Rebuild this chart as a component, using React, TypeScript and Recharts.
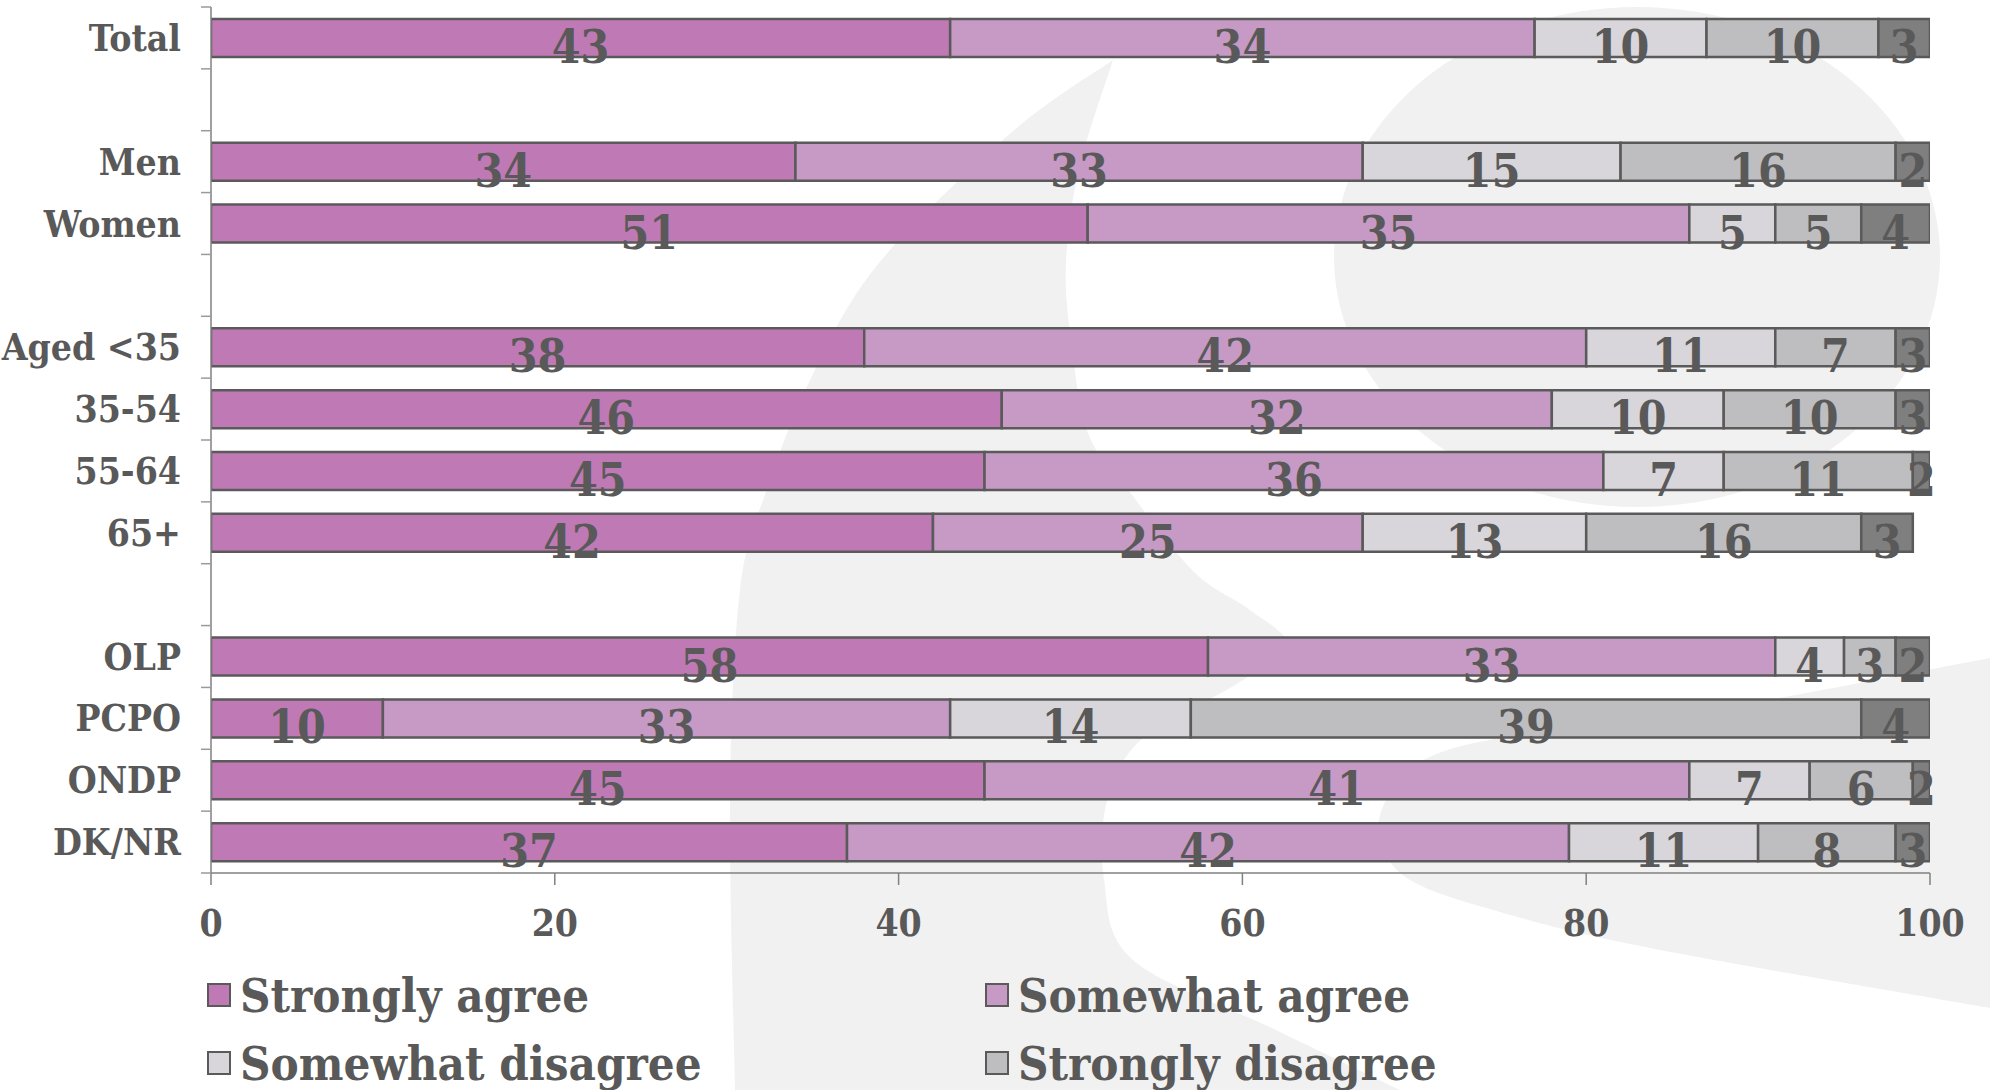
import { BarChart, Bar, XAxis, YAxis, LabelList } from "recharts"

const categories = ["Total", "", "Men", "Women", "", "Aged <35", "35-54", "55-64", "65+", "", "OLP", "PCPO", "ONDP", "DK/NR"]
const stronglyAgree = [43, null, 34, 51, null, 38, 46, 45, 42, null, 58, 10, 45, 37]
const somewhatAgree = [34, null, 33, 35, null, 42, 32, 36, 25, null, 33, 33, 41, 42]
const somewhatDisagree = [10, null, 15, 5, null, 11, 10, 7, 13, null, 4, 14, 7, 11]
const stronglyDisagree = [10, null, 16, 5, null, 7, 10, 11, 16, null, 3, 39, 6, 8]
const dkNr = [3, null, 2, 4, null, 3, 3, 2, 3, null, 2, 4, 2, 3]
const xTicks = [0, 20, 40, 60, 80, 100]

const series = [
  { key: "sa", name: "Strongly agree", values: stronglyAgree, color: "#bf7ab6", legend: true },
  { key: "swa", name: "Somewhat agree", values: somewhatAgree, color: "#c79ac6", legend: true },
  { key: "swd", name: "Somewhat disagree", values: somewhatDisagree, color: "#d8d6da", legend: true },
  { key: "sd", name: "Strongly disagree", values: stronglyDisagree, color: "#bebdc0", legend: true },
  { key: "dk", name: "DK/NR", values: dkNr, color: "#7f7f7f", legend: false },
]

const data = categories.map((name, i) => {
  const row: Record<string, string | number | null> = { name }
  series.forEach((s) => (row[s.key] = s.values[i]))
  return row
})

const W = 1990
const H = 1090
const TOP = 7
const PLOT_H = 866
const FONT = '"DejaVu Serif Condensed", "DejaVu Serif", serif'
const TEXT = "#595959"
const EDGE = "#5a5a5a"
const WASH = "#f1f1f1"

// watermark outline (page decoration, not data)
const crescentOuter = [[1113, 60], [1012, 132], [879, 263], [812, 376], [767, 489], [740, 590], [730, 800], [735, 1090]]
const crescentInner = [[1400, 1090], [1276, 1030], [1133, 960], [1104, 879], [1108, 797], [1145, 736], [1235, 685], [1286, 645], [1250, 610], [1194, 572], [1129, 491], [1088, 433], [1071, 339], [1066, 263], [1079, 169], [1113, 60]]
const tail = [[1990, 658], [1700, 712], [1500, 738], [1420, 762], [1386, 800], [1380, 840], [1410, 880], [1500, 912], [1650, 948], [1990, 1008]]

function smooth(pts: number[][]) {
  let d = ""
  for (let i = 0; i < pts.length - 1; i++) {
    const p0 = pts[Math.max(i - 1, 0)]
    const p1 = pts[i]
    const p2 = pts[i + 1]
    const p3 = pts[Math.min(i + 2, pts.length - 1)]
    const c1 = [p1[0] + (p2[0] - p0[0]) / 6, p1[1] + (p2[1] - p0[1]) / 6]
    const c2 = [p2[0] - (p3[0] - p1[0]) / 6, p2[1] - (p3[1] - p1[1]) / 6]
    d += ` C ${c1[0]} ${c1[1]}, ${c2[0]} ${c2[1]}, ${p2[0]} ${p2[1]}`
  }
  return d
}

function Backdrop() {
  const crescent =
    `M ${crescentOuter[0][0]} ${crescentOuter[0][1]}` +
    smooth(crescentOuter) +
    ` L ${crescentInner[0][0]} ${crescentInner[0][1]}` +
    smooth(crescentInner) +
    " Z"
  const tailPath = `M ${tail[0][0]} ${tail[0][1]}` + smooth(tail) + " Z"
  return (
    <svg width={W} height={H} style={{ position: "absolute", left: 0, top: 0 }}>
      <ellipse cx={1637} cy={257} rx={303} ry={250} fill={WASH} />
      <path d={crescent} fill={WASH} />
      <path d={tailPath} fill={WASH} />
    </svg>
  )
}

function CategoryTick(props: any) {
  const { x, y, payload, index } = props
  const slot = PLOT_H / categories.length
  const tx = x + 20
  return (
    <g>
      <line x1={tx} x2={tx + 10} y1={y - slot / 2} y2={y - slot / 2} stroke="#9a9a9a" strokeWidth={1.5} />
      {index === categories.length - 1 && (
        <line x1={tx} x2={tx + 10} y1={y + slot / 2} y2={y + slot / 2} stroke="#9a9a9a" strokeWidth={1.5} />
      )}
      <text x={x} y={y} textAnchor="end" dominantBaseline="central" fill={TEXT} fontFamily={FONT} fontWeight="bold" fontSize={37}>
        {payload.value}
      </text>
    </g>
  )
}

function SegmentLabel(props: any) {
  const { x, y, width, height, value } = props
  if (value == null) return null
  return (
    <text
      x={x + width / 2}
      y={y + height / 2 + 9}
      textAnchor="middle"
      dominantBaseline="central"
      fill={TEXT}
      fontFamily={FONT}
      fontWeight="bold"
      fontSize={46}
    >
      {value}
    </text>
  )
}

function LegendBox() {
  const items = series.filter((s) => s.legend)
  const cols = [207, 985]
  const rows = [995, 1063]
  return (
    <>
      {items.map((s, i) => (
        <div
          key={s.key}
          style={{
            position: "absolute",
            left: cols[i % 2],
            top: rows[Math.floor(i / 2)] - 30,
            height: 60,
            display: "flex",
            alignItems: "center",
            fontFamily: FONT,
            fontWeight: "bold",
            fontSize: 47,
            color: TEXT,
            whiteSpace: "nowrap",
          }}
        >
          <span
            style={{
              display: "inline-block",
              width: 20,
              height: 20,
              background: s.color,
              border: `2.5px solid ${EDGE}`,
              marginRight: 9,
            }}
          />
          {s.name}
        </div>
      ))}
    </>
  )
}

export default function App() {
  return (
    <div style={{ position: "absolute", left: 0, top: 0, width: W, height: H, background: "#fff", overflow: "hidden" }}>
      <Backdrop />
      <div style={{ position: "absolute", left: 0, top: 0 }}>
        <BarChart
          width={W}
          height={H}
          data={data}
          layout="vertical"
          margin={{ top: TOP, right: 60, left: 0, bottom: 0 }}
          barSize={38}
        >
          <XAxis
            type="number"
            domain={[0, 100]}
            ticks={xTicks}
            allowDataOverflow
            height={H - TOP - PLOT_H}
            axisLine={{ stroke: "#808080", strokeWidth: 1.5 }}
            tickLine={{ stroke: "#808080", strokeWidth: 1.5 }}
            tickSize={12}
            tickMargin={25}
            tick={{ fill: TEXT, fontFamily: FONT, fontWeight: "bold", fontSize: 37 }}
          />
          <YAxis
            type="category"
            dataKey="name"
            width={211}
            interval={0}
            axisLine={{ stroke: "#808080", strokeWidth: 1.5 }}
            tickLine={false}
            tickSize={10}
            tickMargin={20}
            tick={<CategoryTick />}
          />
          {series.map((s) => (
            <Bar
              key={s.key}
              dataKey={s.key}
              name={s.name}
              stackId="a"
              fill={s.color}
              stroke={EDGE}
              strokeWidth={2.5}
              isAnimationActive={false}
            >
              <LabelList dataKey={s.key} content={<SegmentLabel />} />
            </Bar>
          ))}
        </BarChart>
      </div>
      <LegendBox />
    </div>
  )
}
